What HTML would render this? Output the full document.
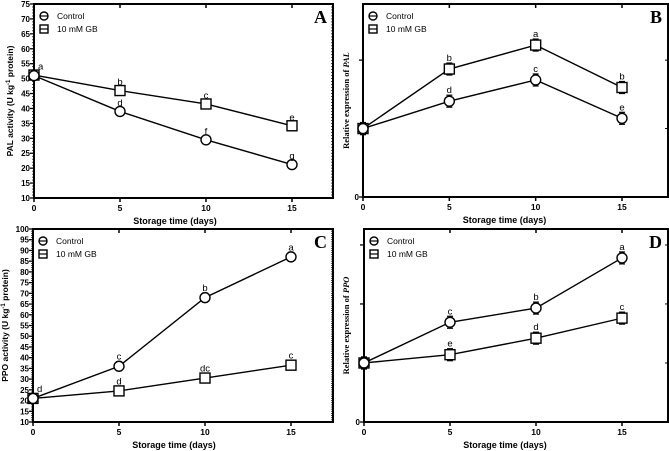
<!DOCTYPE html>
<html><head><meta charset="utf-8"><style>
html,body{margin:0;padding:0;background:#fff;}
svg{display:block;font-family:"Liberation Sans",Arial,sans-serif;}
</style></head><body>
<svg id="fig" width="669" height="451" viewBox="0 0 669 451" xmlns="http://www.w3.org/2000/svg"></svg>
<script>
const days = [0, 5, 10, 15];
const palControl = [51, 39, 29.5, 21.2];
const palGB = [51.2, 46, 41.5, 34.2];
const palControlLetters = ["", "d", "f", "g"];
const palGBLetters = ["a", "b", "c", "e"];
const palExpControl = [1.0, 1.40, 1.71, 1.15];
const palExpGB = [1.0, 1.87, 2.22, 1.60];
const palExpControlLetters = ["", "d", "c", "e"];
const palExpGBLetters = ["", "b", "a", "b"];
const ppoControl = [21, 36, 68, 87];
const ppoGB = [21, 24.5, 30.5, 36.5];
const ppoControlLetters = ["d", "c", "b", "a"];
const ppoGBLetters = ["", "d", "dc", "c"];
const ppoExpControl = [1.0, 1.69, 1.93, 2.78];
const ppoExpGB = [1.0, 1.14, 1.42, 1.76];
const ppoExpControlLetters = ["", "c", "b", "a"];
const ppoExpGBLetters = ["", "e", "d", "c"];
const xTickLabels = ["0", "5", "10", "15"];

const NS = "http://www.w3.org/2000/svg";
const svg = document.getElementById('fig');
function mk(tag, attrs, parent){const e=document.createElementNS(NS,tag);for(const k in attrs)e.setAttribute(k,attrs[k]);(parent||svg).appendChild(e);return e;}

function panel(cfg){
  const g = mk('g',{});
  
  
  const L=cfg.L,R=cfg.R,T=cfg.T,B=cfg.B;
  const x0=L, x15=cfg.x15;
  const xs = v => x0 + (x15-x0)*v/15;
  const ys = v => B - (v-cfg.ymin)/(cfg.ymax-cfg.ymin)*(B-T);
  const frame = mk('rect',{x:L,y:T,width:R-L,height:B-T,fill:'none',stroke:'#000','stroke-width':2},g);
  
  
  days.forEach((d,i)=>{
    mk('line',{x1:xs(d),x2:xs(d),y1:B,y2:B+4,stroke:'#000','stroke-width':1.5},g);
    mk('line',{x1:xs(d),x2:xs(d),y1:T,y2:T+4,stroke:'#000','stroke-width':1.5},g);
    const t=mk('text',{x:xs(d),y:B+13,'font-size':8.5,'font-weight':'bold','text-anchor':'middle'},g);
    t.textContent=xTickLabels[i];
    
    
  });
  const xt=mk('text',{x:(L+x15)/2+12,y:B+26,'font-size':9,'font-weight':'bold','text-anchor':'middle'},g);
  xt.textContent='Storage time (days)';
  
  
  if(cfg.labeled){
    for(let v=cfg.ymin; v<=cfg.ymax; v+=cfg.major){
      mk('line',{x1:L-4,x2:L,y1:ys(v),y2:ys(v),stroke:'#000','stroke-width':1.3},g);
      const t=mk('text',{x:L-4,y:ys(v)+3,'font-size':8,'font-weight':'bold','text-anchor':'end'},g);
      t.textContent=v;
      
      
    }
    for(let v=cfg.ymin; v<=cfg.ymax; v+=1){
      mk('line',{x1:L-2,x2:L,y1:ys(v),y2:ys(v),stroke:'#000','stroke-width':0.7},g);
      mk('line',{x1:R-2,x2:R,y1:ys(v),y2:ys(v),stroke:'#000','stroke-width':0.7},g);
    }
  } else {
    for(let v=0; v<=cfg.ymax; v+=1){
      mk('line',{x1:L-4,x2:L,y1:ys(v),y2:ys(v),stroke:'#000','stroke-width':1.3},g);
      mk('line',{x1:R-3,x2:R,y1:ys(v),y2:ys(v),stroke:'#000','stroke-width':1},g);
    }
    const t=mk('text',{x:L-4,y:ys(0)+3,'font-size':8,'font-weight':'bold','text-anchor':'end'},g);
    t.textContent='0';
    
    
  }
  const yc=(T+B)/2;
  const yt=mk('text',{x:cfg.ytx,y:yc,'font-size':cfg.labeled?8.5:8.5,'font-weight':'bold','text-anchor':'middle',transform:`rotate(-90 ${cfg.ytx} ${yc})`,'font-family':cfg.labeled?'Liberation Sans, sans-serif':'Liberation Serif, serif'},g);
  yt.innerHTML=cfg.ytitle;
  
  
  const pl=mk('text',{x:R-6,y:T+19,'font-size':18,'font-weight':'bold','text-anchor':'end','font-family':'Liberation Serif, serif'},g);
  pl.textContent=cfg.letter;
  
  
  const lg=mk('g',{},g);
  
  
  const lx=L+10;
  mk('circle',{cx:lx,cy:T+12,r:4,fill:'none',stroke:'#000','stroke-width':1.4},lg);
  mk('line',{x1:lx-4,x2:lx+4,y1:T+12,y2:T+12,stroke:'#000','stroke-width':1.2},lg);
  mk('rect',{x:lx-4,y:T+21,width:8,height:8,fill:'none',stroke:'#000','stroke-width':1.4},lg);
  mk('line',{x1:lx-4,x2:lx+4,y1:T+25,y2:T+25,stroke:'#000','stroke-width':1.2},lg);
  const t1=mk('text',{x:lx+13,y:T+15,'font-size':8.5},lg); t1.textContent='Control';
  const t2=mk('text',{x:lx+13,y:T+28,'font-size':8.5},lg); t2.textContent='10 mM GB';
  [[cfg.gb,cfg.gbL,'sq'],[cfg.ctl,cfg.ctlL,'ci']].forEach(([vals,lets,sh])=>{
    const sg=mk('g',{},g);
    
    
    mk('polyline',{points:days.map((d,i)=>xs(d)+','+ys(vals[i])).join(' '),fill:'none',stroke:'#000','stroke-width':1.4},sg);
    days.forEach((d,i)=>{
      const cx=xs(d), cy=ys(vals[i]), e=cfg.err;
      mk('line',{x1:cx,x2:cx,y1:cy-e,y2:cy+e,stroke:'#000','stroke-width':1.2},sg);
      mk('line',{x1:cx-3,x2:cx+3,y1:cy-e,y2:cy-e,stroke:'#000','stroke-width':1.2},sg);
      mk('line',{x1:cx-3,x2:cx+3,y1:cy+e,y2:cy+e,stroke:'#000','stroke-width':1.2},sg);
      let m;
      if(sh==='sq') m=mk('rect',{x:cx-5,y:cy-5,width:10,height:10,fill:'#fff',stroke:'#000','stroke-width':1.4},sg);
      else m=mk('circle',{cx:cx,cy:cy,r:5,fill:'#fff',stroke:'#000','stroke-width':1.4},sg);
      
      
      if(lets[i]){
        const lt=mk('text',{x:cx+(d===0?4:0),y:cy-e-2,'font-size':9.5,'text-anchor':d===0?'start':'middle'},sg);
        lt.textContent=lets[i];
        
        
      }
    });
  });
}

panel({name:'panel-a',letter:'A',L:34,R:333,T:4,B:198,x15:292,ymin:10,ymax:75,major:5,labeled:true,ytx:13,
  ytitle:'PAL activity (U kg<tspan baseline-shift="super" font-size="6">-1</tspan> protein)',
  ctl:palControl,gb:palGB,ctlL:palControlLetters,gbL:palGBLetters,err:3.5});
panel({name:'panel-b',letter:'B',L:363,R:668,T:4,B:197,x15:622,ymin:0,ymax:2.82,labeled:false,ytx:349,
  ytitle:'Relative expression of <tspan font-style="italic">PAL</tspan>',
  ctl:palExpControl,gb:palExpGB,ctlL:palExpControlLetters,gbL:palExpGBLetters,err:6});
panel({name:'panel-c',letter:'C',L:33,R:333,T:229,B:422,x15:291,ymin:10,ymax:100,major:5,labeled:true,ytx:8,
  ytitle:'PPO activity (U kg<tspan baseline-shift="super" font-size="6">-1</tspan> protein)',
  ctl:ppoControl,gb:ppoGB,ctlL:ppoControlLetters,gbL:ppoGBLetters,err:4.5});
panel({name:'panel-d',letter:'D',L:364,R:668,T:229,B:422,x15:622,ymin:0,ymax:3.27,labeled:false,ytx:349,
  ytitle:'Relative expression of <tspan font-style="italic">PPO</tspan>',
  ctl:ppoExpControl,gb:ppoExpGB,ctlL:ppoExpControlLetters,gbL:ppoExpGBLetters,err:6});
</script>
</body></html>
